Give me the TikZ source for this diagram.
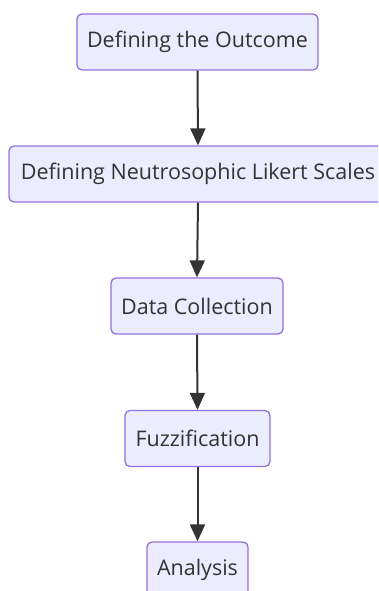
\documentclass[tikz,border=0pt]{standalone}
\usepackage{fontspec}
\setmainfont{Open Sans}
\usetikzlibrary{arrows.meta}
\definecolor{boxfill}{HTML}{ECECFF}
\definecolor{boxline}{HTML}{9370DB}
\definecolor{ink}{HTML}{333333}
\tikzset{
  stepbox/.style={draw=boxline, fill=boxfill, line width=1.3pt, rounded corners=5pt,
    minimum height=56pt, inner sep=0pt, text=ink, font=\fontsize{21.5}{26}\selectfont},
  flow/.style={draw=ink, line width=2pt, -{Triangle[length=17pt,width=15pt]}}
}
\begin{document}
\begin{tikzpicture}[x=1pt,y=1pt]
  \useasboundingbox (0,0) rectangle (378,-591);
  \begin{scope}
    \clip (0,0) rectangle (378,-591);
    \node[stepbox, minimum width=241pt] (outcome) at (197.5,-42) {Defining the Outcome};
    \node[stepbox, minimum width=378pt] (likert) at (198,-174) {Defining Neutrosophic Likert Scales};
    \node[stepbox, minimum width=172pt] (data) at (197,-306) {Data Collection};
    \node[stepbox, minimum width=145pt] (fuzzy) at (197.5,-438.5) {Fuzzification};
    \node[stepbox, minimum width=101pt] (analysis) at (197.5,-570) {Analysis};
    \draw[flow] (outcome.south) -- (likert.north);
    \draw[flow] (likert.south) -- (data.north);
    \draw[flow] (data.south) -- (fuzzy.north);
    \draw[flow] (fuzzy.south) -- (analysis.north);
  \end{scope}
\end{tikzpicture}
\end{document}
